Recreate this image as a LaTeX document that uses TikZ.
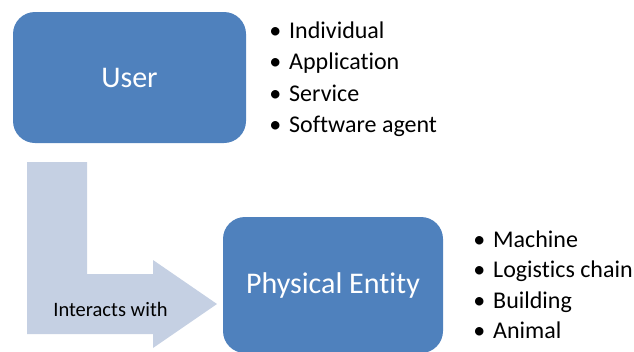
\documentclass[tikz,border=0pt]{standalone}
\usepackage{fontspec}
\setmainfont[Ligatures=NoCommon]{Carlito}
\definecolor{boxblue}{RGB}{79,129,189}
\definecolor{arrowgrey}{RGB}{197,208,227}
\newcommand{\bulletitem}[1]{\llap{\textbullet\hspace{8pt}}#1}

\begin{document}
\begin{tikzpicture}[x=1pt, y=-1pt,
		entity/.style={rectangle,rounded corners=22pt,fill=boxblue,text=white,inner sep=0pt,font=\fontsize{30}{36}\selectfont},
		item/.style={anchor=base west,inner sep=0pt,font=\fontsize{24}{29}\selectfont}]
		\useasboundingbox (0,0) rectangle (634,351);

		%––––– bent arrow –––––
		\fill[arrowgrey] (27,162) -- (87,162) -- (87,274) -- (153,274) -- (153,260) -- (217,304)
			-- (153,348) -- (153,334) -- (27,334) -- cycle;
		\node[inner sep=0pt,font=\fontsize{20.5}{25}\selectfont] (interacts) at (110.5,309) {Interacts with};

		%––––– user –––––
		\node[entity,minimum width=233pt,minimum height=131pt] (user) at (129.5,77.5) {User};

		\node[item] (u1) at (289,38) {\bulletitem{Individual}};
		\node[item] (u2) at (289,69.5) {\bulletitem{Application}};
		\node[item] (u3) at (289,101) {\bulletitem{Service}};
		\node[item] (u4) at (289,132.5) {\bulletitem{Software agent}};

		%––––– physical entity –––––
		\node[entity,minimum width=220pt,minimum height=136pt] (physical) at (333,285) {Physical Entity};

		\node[item] (p1) at (493,247) {\bulletitem{Machine}};
		\node[item] (p2) at (493,277.5) {\bulletitem{Logistics chain}};
		\node[item] (p3) at (493,308) {\bulletitem{Building}};
		\node[item] (p4) at (493,338.5) {\bulletitem{Animal}};
	\end{tikzpicture}
\end{document}
